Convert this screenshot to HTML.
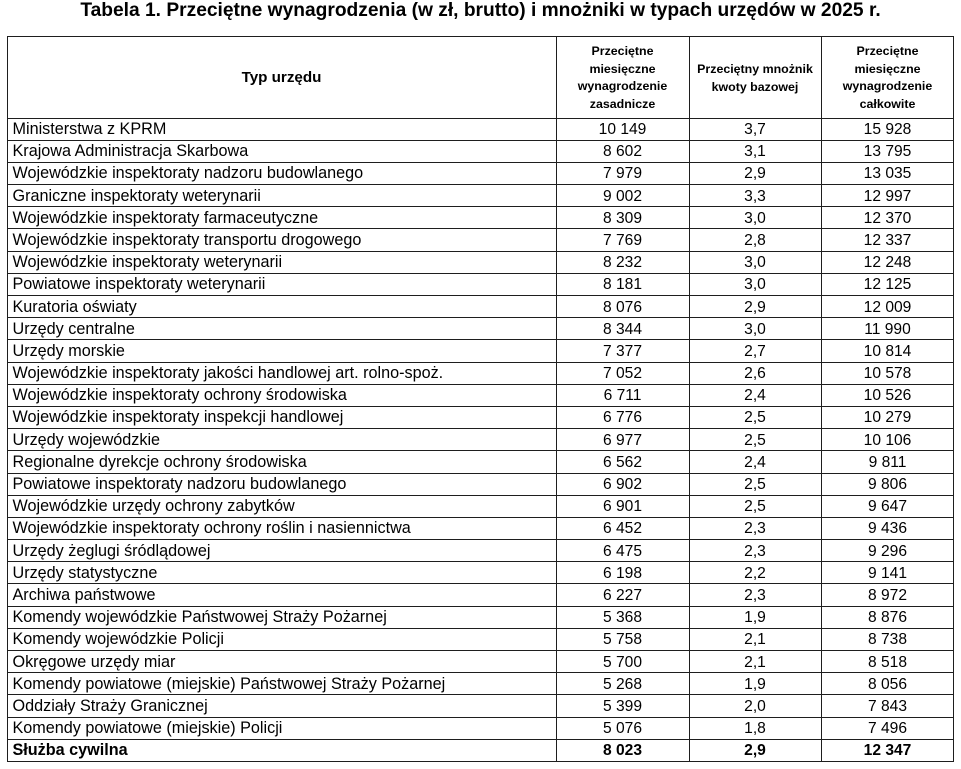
<!DOCTYPE html>
<html>
<head>
<meta charset="utf-8">
<style>
html,body{margin:0;padding:0;background:#fff;}
body{width:961px;height:769px;position:relative;overflow:hidden;font-family:"Liberation Sans",Arial,sans-serif;color:#000;}
.title{position:absolute;left:0;top:-0.5px;width:961px;text-align:center;font-weight:bold;font-size:19.2px;line-height:22px;white-space:nowrap;}
.v{position:absolute;top:36px;height:726px;width:1px;background:#1e1e1e;}
.h{position:absolute;left:7px;width:947px;height:1px;background:#1e1e1e;}
.hd{position:absolute;text-align:center;font-weight:bold;font-size:12.4px;line-height:17.8px;}
.row{position:absolute;left:7px;width:947px;height:22.19px;display:flex;font-size:15.6px;line-height:21px;padding-top:1.5px;box-sizing:border-box;white-space:nowrap;}
.row div{box-sizing:border-box;}
.c1{width:549px;padding-left:5.5px;text-align:left;font-size:16.2px;}
.c2{width:133px;text-align:center;}
.c3{width:132px;text-align:center;}
.c4{width:133px;text-align:center;}
.b{font-weight:bold;}
</style>
</head>
<body>
<div class="title">Tabela 1. Przeciętne wynagrodzenia (w zł, brutto) i mnożniki w typach urzędów w 2025 r.</div>

<div class="v" style="left:7px"></div>
<div class="v" style="left:556px"></div>
<div class="v" style="left:689px"></div>
<div class="v" style="left:821px"></div>
<div class="v" style="left:953px"></div>

<div class="h" style="top:36px"></div>
<div class="h" style="top:117.5px"></div>
<div class="h" style="top:139.69px"></div>
<div class="h" style="top:161.88px"></div>
<div class="h" style="top:184.07px"></div>
<div class="h" style="top:206.26px"></div>
<div class="h" style="top:228.45px"></div>
<div class="h" style="top:250.64px"></div>
<div class="h" style="top:272.83px"></div>
<div class="h" style="top:295.02px"></div>
<div class="h" style="top:317.21px"></div>
<div class="h" style="top:339.40px"></div>
<div class="h" style="top:361.59px"></div>
<div class="h" style="top:383.78px"></div>
<div class="h" style="top:405.97px"></div>
<div class="h" style="top:428.16px"></div>
<div class="h" style="top:450.35px"></div>
<div class="h" style="top:472.54px"></div>
<div class="h" style="top:494.73px"></div>
<div class="h" style="top:516.92px"></div>
<div class="h" style="top:539.11px"></div>
<div class="h" style="top:561.30px"></div>
<div class="h" style="top:583.49px"></div>
<div class="h" style="top:605.68px"></div>
<div class="h" style="top:627.87px"></div>
<div class="h" style="top:650.06px"></div>
<div class="h" style="top:672.25px"></div>
<div class="h" style="top:694.44px"></div>
<div class="h" style="top:716.63px"></div>
<div class="h" style="top:738.82px"></div>
<div class="h" style="top:761px"></div>

<div class="hd" style="left:7px;width:549px;top:67.5px;font-size:15.2px;line-height:20px;">Typ urzędu</div>
<div class="hd" style="left:556px;width:133px;top:42.8px;">Przeciętne<br>miesięczne<br>wynagrodzenie<br>zasadnicze</div>
<div class="hd" style="left:689px;width:132px;top:61px;">Przeciętny mnożnik<br>kwoty bazowej</div>
<div class="hd" style="left:821px;width:133px;top:42.8px;">Przeciętne<br>miesięczne<br>wynagrodzenie<br>całkowite</div>

<div class="row" style="top:117.5px"><div class="c1">Ministerstwa z KPRM</div><div class="c2">10 149</div><div class="c3">3,7</div><div class="c4">15 928</div></div>
<div class="row" style="top:139.69px"><div class="c1">Krajowa Administracja Skarbowa</div><div class="c2">8 602</div><div class="c3">3,1</div><div class="c4">13 795</div></div>
<div class="row" style="top:161.88px"><div class="c1">Wojewódzkie inspektoraty nadzoru budowlanego</div><div class="c2">7 979</div><div class="c3">2,9</div><div class="c4">13 035</div></div>
<div class="row" style="top:184.07px"><div class="c1">Graniczne inspektoraty weterynarii</div><div class="c2">9 002</div><div class="c3">3,3</div><div class="c4">12 997</div></div>
<div class="row" style="top:206.26px"><div class="c1">Wojewódzkie inspektoraty farmaceutyczne</div><div class="c2">8 309</div><div class="c3">3,0</div><div class="c4">12 370</div></div>
<div class="row" style="top:228.45px"><div class="c1">Wojewódzkie inspektoraty transportu drogowego</div><div class="c2">7 769</div><div class="c3">2,8</div><div class="c4">12 337</div></div>
<div class="row" style="top:250.64px"><div class="c1">Wojewódzkie inspektoraty weterynarii</div><div class="c2">8 232</div><div class="c3">3,0</div><div class="c4">12 248</div></div>
<div class="row" style="top:272.83px"><div class="c1">Powiatowe inspektoraty weterynarii</div><div class="c2">8 181</div><div class="c3">3,0</div><div class="c4">12 125</div></div>
<div class="row" style="top:295.02px"><div class="c1">Kuratoria oświaty</div><div class="c2">8 076</div><div class="c3">2,9</div><div class="c4">12 009</div></div>
<div class="row" style="top:317.21px"><div class="c1">Urzędy centralne</div><div class="c2">8 344</div><div class="c3">3,0</div><div class="c4">11 990</div></div>
<div class="row" style="top:339.40px"><div class="c1">Urzędy morskie</div><div class="c2">7 377</div><div class="c3">2,7</div><div class="c4">10 814</div></div>
<div class="row" style="top:361.59px"><div class="c1">Wojewódzkie inspektoraty jakości handlowej art. rolno-spoż.</div><div class="c2">7 052</div><div class="c3">2,6</div><div class="c4">10 578</div></div>
<div class="row" style="top:383.78px"><div class="c1">Wojewódzkie inspektoraty ochrony środowiska</div><div class="c2">6 711</div><div class="c3">2,4</div><div class="c4">10 526</div></div>
<div class="row" style="top:405.97px"><div class="c1">Wojewódzkie inspektoraty inspekcji handlowej</div><div class="c2">6 776</div><div class="c3">2,5</div><div class="c4">10 279</div></div>
<div class="row" style="top:428.16px"><div class="c1">Urzędy wojewódzkie</div><div class="c2">6 977</div><div class="c3">2,5</div><div class="c4">10 106</div></div>
<div class="row" style="top:450.35px"><div class="c1">Regionalne dyrekcje ochrony środowiska</div><div class="c2">6 562</div><div class="c3">2,4</div><div class="c4">9 811</div></div>
<div class="row" style="top:472.54px"><div class="c1">Powiatowe inspektoraty nadzoru budowlanego</div><div class="c2">6 902</div><div class="c3">2,5</div><div class="c4">9 806</div></div>
<div class="row" style="top:494.73px"><div class="c1">Wojewódzkie urzędy ochrony zabytków</div><div class="c2">6 901</div><div class="c3">2,5</div><div class="c4">9 647</div></div>
<div class="row" style="top:516.92px"><div class="c1">Wojewódzkie inspektoraty ochrony roślin i nasiennictwa</div><div class="c2">6 452</div><div class="c3">2,3</div><div class="c4">9 436</div></div>
<div class="row" style="top:539.11px"><div class="c1">Urzędy żeglugi śródlądowej</div><div class="c2">6 475</div><div class="c3">2,3</div><div class="c4">9 296</div></div>
<div class="row" style="top:561.30px"><div class="c1">Urzędy statystyczne</div><div class="c2">6 198</div><div class="c3">2,2</div><div class="c4">9 141</div></div>
<div class="row" style="top:583.49px"><div class="c1">Archiwa państwowe</div><div class="c2">6 227</div><div class="c3">2,3</div><div class="c4">8 972</div></div>
<div class="row" style="top:605.68px"><div class="c1">Komendy wojewódzkie Państwowej Straży Pożarnej</div><div class="c2">5 368</div><div class="c3">1,9</div><div class="c4">8 876</div></div>
<div class="row" style="top:627.87px"><div class="c1">Komendy wojewódzkie Policji</div><div class="c2">5 758</div><div class="c3">2,1</div><div class="c4">8 738</div></div>
<div class="row" style="top:650.06px"><div class="c1">Okręgowe urzędy miar</div><div class="c2">5 700</div><div class="c3">2,1</div><div class="c4">8 518</div></div>
<div class="row" style="top:672.25px"><div class="c1">Komendy powiatowe (miejskie) Państwowej Straży Pożarnej</div><div class="c2">5 268</div><div class="c3">1,9</div><div class="c4">8 056</div></div>
<div class="row" style="top:694.44px"><div class="c1">Oddziały Straży Granicznej</div><div class="c2">5 399</div><div class="c3">2,0</div><div class="c4">7 843</div></div>
<div class="row" style="top:716.63px"><div class="c1">Komendy powiatowe (miejskie) Policji</div><div class="c2">5 076</div><div class="c3">1,8</div><div class="c4">7 496</div></div>
<div class="row b" style="top:738.82px"><div class="c1">Służba cywilna</div><div class="c2">8 023</div><div class="c3">2,9</div><div class="c4">12 347</div></div>
</body>
</html>
